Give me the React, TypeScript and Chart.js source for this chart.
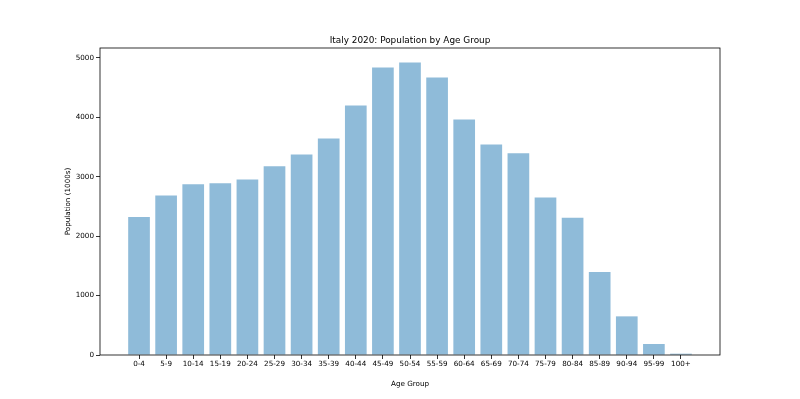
import React, { useEffect, useRef } from "react";
import { Chart, registerables } from "chart.js";

Chart.register(...registerables);

const ageGroups = ["0-4","5-9","10-14","15-19","20-24","25-29","30-34","35-39","40-44","45-49","50-54","55-59","60-64","65-69","70-74","75-79","80-84","85-89","90-94","95-99","100+"];
const population = [2320, 2684, 2872, 2890, 2953, 3176, 3373, 3642, 4196, 4835, 4919, 4667, 3961, 3541, 3395, 2650, 2308, 1395, 650, 185, 22];
const yTicks = [0, 1000, 2000, 3000, 4000, 5000];
const titleText = "Italy 2020: Population by Age Group";
const xTitle = "Age Group";
const yTitle = "Population (1000s)";

const FONT = "'DejaVu Sans', sans-serif";

const framePlugin = {
  id: "frame",
  afterDraw(chart: any) {
    const { ctx, chartArea } = chart;
    ctx.save();
    ctx.strokeStyle = "#000";
    ctx.lineWidth = 0.8;
    ctx.strokeRect(chartArea.left, chartArea.top, chartArea.right - chartArea.left, chartArea.bottom - chartArea.top);
    ctx.fillStyle = "#000";
    ctx.font = `8.9px ${FONT}`;
    ctx.textAlign = "center";
    ctx.textBaseline = "alphabetic";
    ctx.fillText(titleText, (chartArea.left + chartArea.right) / 2, chartArea.top - 5);
    ctx.restore();
  },
};

export default function App() {
  const ref = useRef<HTMLCanvasElement | null>(null);
  useEffect(() => {
    document.body.style.margin = "0";
    const n = ageGroups.length;
    const span = n - 1 + 0.8;
    const margin = span * 0.05;
    const chart = new Chart(ref.current!, {
      type: "bar",
      data: {
        datasets: [
          {
            data: population.map((v, i) => ({ x: i, y: v })),
            backgroundColor: "rgba(31,119,180,0.5)",
            borderWidth: 0,
            barPercentage: 0.8,
            categoryPercentage: 1.0,
          },
        ],
      },
      options: {
        animation: false,
        responsive: false,
        maintainAspectRatio: false,
        layout: { padding: { top: 48, right: 80, left: 0, bottom: 0 } },
        plugins: { legend: { display: false }, tooltip: { enabled: false }, title: { display: false } },
        scales: {
          x: {
            type: "linear",
            offset: false,
            min: -0.4 - margin,
            max: n - 1 + 0.4 + margin,
            afterBuildTicks: (scale: any) => {
              scale.ticks = ageGroups.map((_, i) => ({ value: i }));
            },
            afterFit: (scale: any) => {
              scale.height = 44;
            },
            ticks: {
              autoSkip: false,
              maxRotation: 0,
              minRotation: 0,
              padding: 1,
              color: "#000",
              font: { family: FONT, size: 7.2 },
              callback: (v: any) => ageGroups[v as number] ?? "",
            },
            grid: { display: true, offset: false, drawOnChartArea: false, drawTicks: true, tickLength: 4, color: "#000", lineWidth: 0.8 },
            border: { display: false },
            title: { display: true, text: xTitle, color: "#000", font: { family: FONT, size: 7.2 }, padding: { top: 0, bottom: 11 } },
          },
          y: {
            min: 0,
            max: 5165,
            afterBuildTicks: (scale: any) => {
              scale.ticks = yTicks.map((v) => ({ value: v }));
            },
            afterFit: (scale: any) => {
              scale.width = 100;
            },
            ticks: {
              padding: 2,
              color: "#000",
              font: { family: FONT, size: 7.2 },
              callback: (v: any) => String(v),
            },
            grid: { display: true, drawOnChartArea: false, drawTicks: true, tickLength: 4, color: "#000", lineWidth: 0.8 },
            border: { display: false },
            title: { display: true, text: yTitle, color: "#000", font: { family: FONT, size: 7.2 }, padding: { top: 64, bottom: 0 } },
          },
        },
      },
      plugins: [framePlugin],
    } as any);
    return () => chart.destroy();
  }, []);
  return (
    <div style={{ width: 800, height: 399, background: "#fff" }}>
      <canvas ref={ref} width={800} height={399} style={{ display: "block" }} />
    </div>
  );
}
